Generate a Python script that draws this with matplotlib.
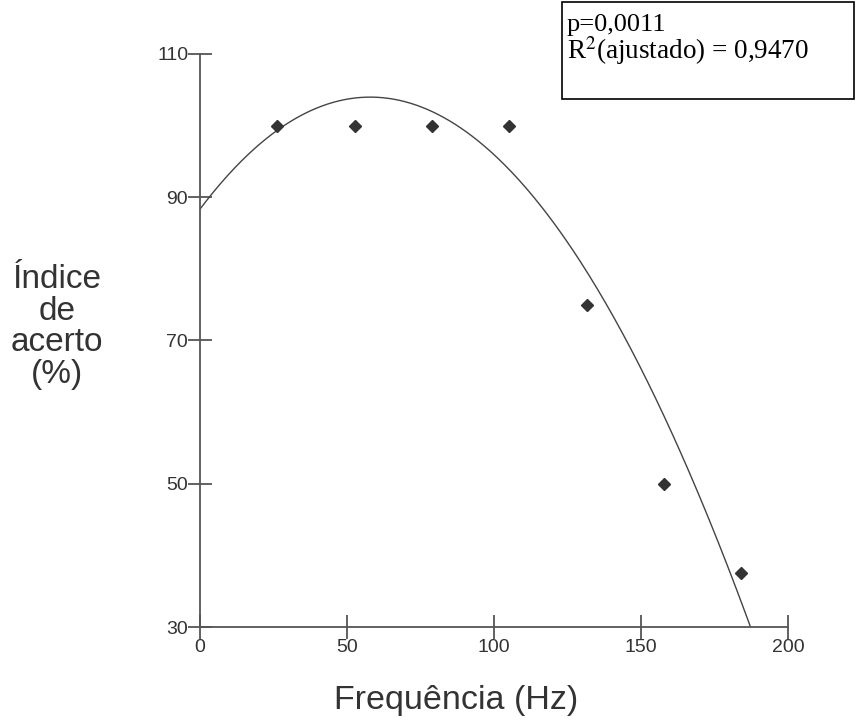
import numpy as np
import matplotlib
matplotlib.use("Agg")
import matplotlib.pyplot as plt

plt.rcParams['font.family'] = ['Liberation Sans', 'DejaVu Sans']
plt.rcParams['mathtext.fontset'] = 'stix'

# observed points
freq = [26.3, 52.6, 78.9, 105.2, 131.5, 157.8, 184.1]
acerto = [100, 100, 100, 100, 75, 50, 37.5]
# fitted curve
curve_x = [0, 26, 58, 79, 102, 140.5, 158, 180, 188]
curve_y = [88.5, 99.0, 104.0, 101.8, 95.5, 73.8, 58.9, 37.0, 30.0]
xticks = [0, 50, 100, 150, 200]
yticks = [30, 50, 70, 90, 110]

fig = plt.figure(figsize=(8.56, 7.28), dpi=100)
ax = fig.add_axes([200/856, 1-627/728, 588/856, 573/728])

coef = np.polyfit(curve_x, curve_y, 3)
xs = np.linspace(curve_x[0], curve_x[-1], 400)
ax.plot(xs, np.polyval(coef, xs), color='#444444', lw=1.0)
ax.plot(freq, acerto, linestyle='none', marker='D', markersize=6, color='#333333')

ax.set_xlim(0, 200)
ax.set_ylim(30, 110)
ax.set_xticks(xticks)
ax.set_yticks(yticks)
for s in ['top', 'right']:
    ax.spines[s].set_visible(False)
for s in ['left', 'bottom']:
    ax.spines[s].set_color('#555555')
    ax.spines[s].set_linewidth(1.3)
ax.tick_params(axis='both', direction='inout', length=17, width=1.3, color='#555555',
               labelsize=14, labelcolor='#333333', pad=0)

fig.text(57/856, 1-327/728, "Índice\nde\nacerto\n(%)", ha='center', va='center',
         fontsize=24, color='#333333', linespacing=1.03)
fig.text(456/856, 1-700/728, "Frequência (Hz)", ha='center', va='center',
         fontsize=24.5, color='#333333')

box = plt.Rectangle((562/856, 1-99/728), 292/856, 97/728, transform=fig.transFigure,
                    fill=False, edgecolor='black', lw=1.2)
fig.add_artist(box)
fig.text(567/856, 1-25/728, "p=0,0011", fontsize=19, family='Liberation Serif',
         va='center', ha='left', color='black')
fig.text(567/856, 1-51/728, "R$^{2}$(ajustado) = 0,9470", fontsize=19.5, family='Liberation Serif',
         va='center', ha='left', color='black')

fig.savefig("out.png", dpi=100)
